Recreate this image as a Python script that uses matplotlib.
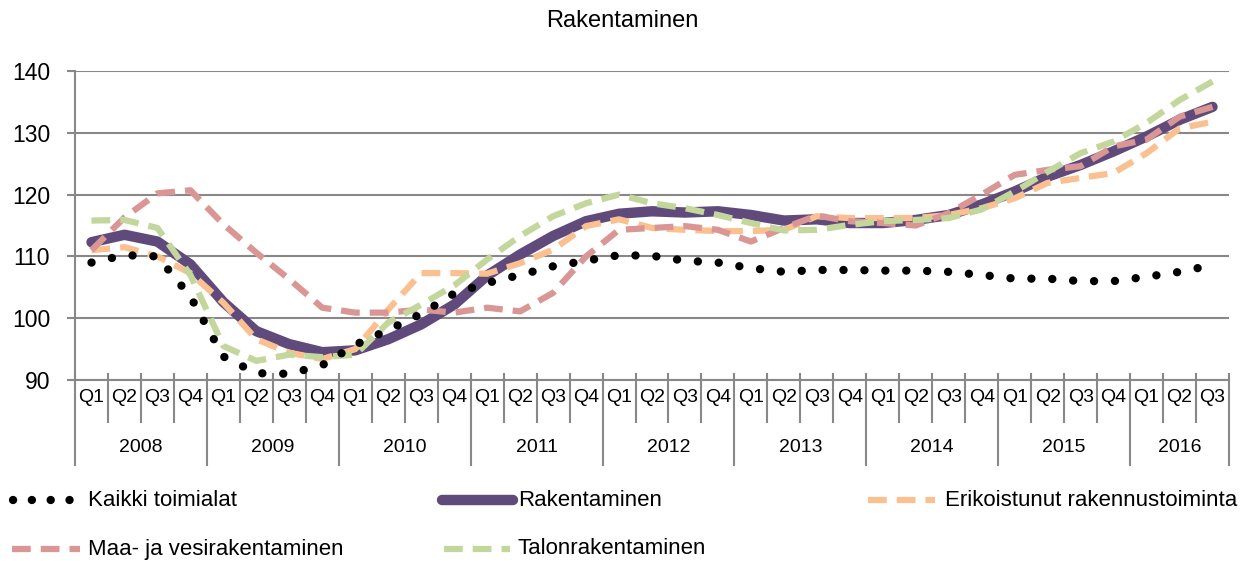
import matplotlib
matplotlib.use('Agg')
import matplotlib.pyplot as plt
from matplotlib.lines import Line2D
import matplotlib.transforms as mtransforms

plt.rcParams['font.family'] = ['Liberation Sans', 'DejaVu Sans']

# data: quarterly index, 2008 Q1 .. 2016 Q3
years = ['2008', '2009', '2010', '2011', '2012', '2013', '2014', '2015', '2016']
quarters = ['Q1', 'Q2', 'Q3', 'Q4']
n_quarters = 35

kaikki = [109.0, 110.2, 110.0, 103.5, 93.8, 91.1, 91.0, 92.4, 95.7, 98.1, 100.7, 104.0,
          105.7, 107.0, 108.4, 109.3, 110.2, 110.1, 109.3, 109.0, 108.1, 107.5, 107.8,
          107.8, 107.7, 107.7, 107.5, 107.0, 106.4, 106.4, 106.0, 106.0, 106.7, 107.5, 108.6]
rakentaminen = [112.3, 113.5, 112.4, 108.7, 102.6, 97.9, 95.8, 94.5, 94.8, 96.6, 99.0, 102.2,
                106.9, 110.3, 113.3, 115.7, 116.9, 117.3, 117.1, 117.3, 116.7, 115.8, 116.0,
                115.4, 115.4, 115.9, 116.7, 118.4, 120.5, 122.9, 124.8, 127.0, 129.4, 132.1, 134.2]
erikoistunut = [111.0, 111.5, 110.0, 107.3, 102.5, 96.6, 94.4, 93.4, 95.0, 101.4, 107.3, 107.3,
                107.2, 108.9, 111.1, 114.9, 116.0, 114.6, 114.3, 114.1, 114.1, 114.3, 116.5,
                116.2, 116.2, 116.2, 116.7, 117.8, 119.4, 121.9, 122.7, 123.5, 126.7, 130.7, 131.8]
maa_vesi = [111.0, 116.3, 120.2, 120.7, 115.2, 110.6, 106.3, 101.7, 100.9, 100.9, 101.4, 100.9,
            101.7, 101.1, 104.1, 110.0, 114.3, 114.6, 114.9, 114.3, 112.4, 114.6, 116.6,
            115.7, 115.4, 115.0, 117.0, 120.0, 123.2, 124.0, 124.6, 127.8, 128.9, 132.6, 134.2]
talon = [115.8, 115.9, 114.6, 107.0, 95.5, 93.1, 94.1, 93.7, 94.1, 99.3, 102.2, 105.3,
         109.5, 113.3, 116.5, 118.6, 120.0, 118.6, 117.8, 116.7, 115.4, 114.2, 114.3,
         115.1, 115.7, 115.9, 116.2, 117.6, 120.5, 123.7, 126.7, 128.6, 131.6, 135.3, 138.3]

W, H = 1251, 561
fig = plt.figure(figsize=(W / 100, H / 100), dpi=100)
ax = fig.add_axes([75 / W, 1 - 380 / H, (1229 - 75) / W, (380 - 71) / H])

x = list(range(n_quarters))
GRAY = '#888888'

styles = {
    'Kaikki toimialat': dict(color='black', lw=6, ls=(0, (0.01, 2.5)),
                             dash_capstyle='round', zorder=6),
    'Rakentaminen': dict(color='#604A7B', lw=7.5, ls='-', solid_capstyle='round', zorder=2),
    'Erikoistunut rakennustoiminta': dict(color='#FAC090', lw=4.5, ls=(0, (3, 1.6)), zorder=3),
    'Maa- ja vesirakentaminen': dict(color='#D99694', lw=4.5, ls=(0, (3, 1.6)), zorder=4),
    'Talonrakentaminen': dict(color='#C3D69B', lw=4.5, ls=(0, (3, 1.6)), zorder=5),
}
series = {
    'Kaikki toimialat': kaikki,
    'Rakentaminen': rakentaminen,
    'Erikoistunut rakennustoiminta': erikoistunut,
    'Maa- ja vesirakentaminen': maa_vesi,
    'Talonrakentaminen': talon,
}
for name, vals in series.items():
    ax.plot(x, vals, **styles[name])

ax.set_xlim(-0.5, n_quarters - 0.5)
ax.set_ylim(90, 140)
ax.set_yticks(range(90, 141, 10))
ax.yaxis.grid(True, color=GRAY, lw=1.5)
ax.set_axisbelow(True)
ax.set_xticks([])
ax.tick_params(axis='y', length=6, width=1.5, color=GRAY, pad=12, labelsize=16.5)
for s in ['top', 'right']:
    ax.spines[s].set_visible(False)
for s in ['left', 'bottom']:
    ax.spines[s].set_color(GRAY)
    ax.spines[s].set_linewidth(1.5)

# category axis: quarters and years
trans = mtransforms.blended_transform_factory(ax.transData, ax.transAxes)
for k in range(n_quarters + 1):
    bottom = -0.275 if (k % 4 == 0 or k == n_quarters) else -0.136
    ax.add_line(Line2D([k - 0.5, k - 0.5], [0.019, bottom], transform=trans,
                       color=GRAY, lw=1.5, clip_on=False))
for i in x:
    ax.text(i, -0.058, quarters[i % 4], transform=trans, ha='center', va='center', fontsize=14)
for j, yr in enumerate(years):
    first = j * 4
    last = min(first + 3, n_quarters - 1)
    ax.text((first + last) / 2, -0.22, yr, transform=trans, ha='center', va='center', fontsize=14)

fig.text(622 / W, 1 - 21 / H, 'Rakentaminen', ha='center', va='center', fontsize=17)

# legend drawn by hand to match the layout
legend_pos = [
    ('Kaikki toimialat', 13, 77, 500, 88),
    ('Rakentaminen', 442, 513, 500, 518),
    ('Erikoistunut rakennustoiminta', 868, 935, 500, 945),
    ('Maa- ja vesirakentaminen', 12, 80, 549, 88),
    ('Talonrakentaminen', 444, 510, 549, 518),
]
for name, x0, x1, yy, tx in legend_pos:
    st = dict(styles[name])
    st.pop('zorder')
    if name == 'Kaikki toimialat':
        st['ls'] = (0, (0.01, 2.25))
    fig.add_artist(Line2D([x0 / W, x1 / W], [1 - yy / H, 1 - yy / H], **st))
    fig.text(tx / W, 1 - yy / H, name, ha='left', va='center', fontsize=16)

fig.savefig('out.png', dpi=100)
